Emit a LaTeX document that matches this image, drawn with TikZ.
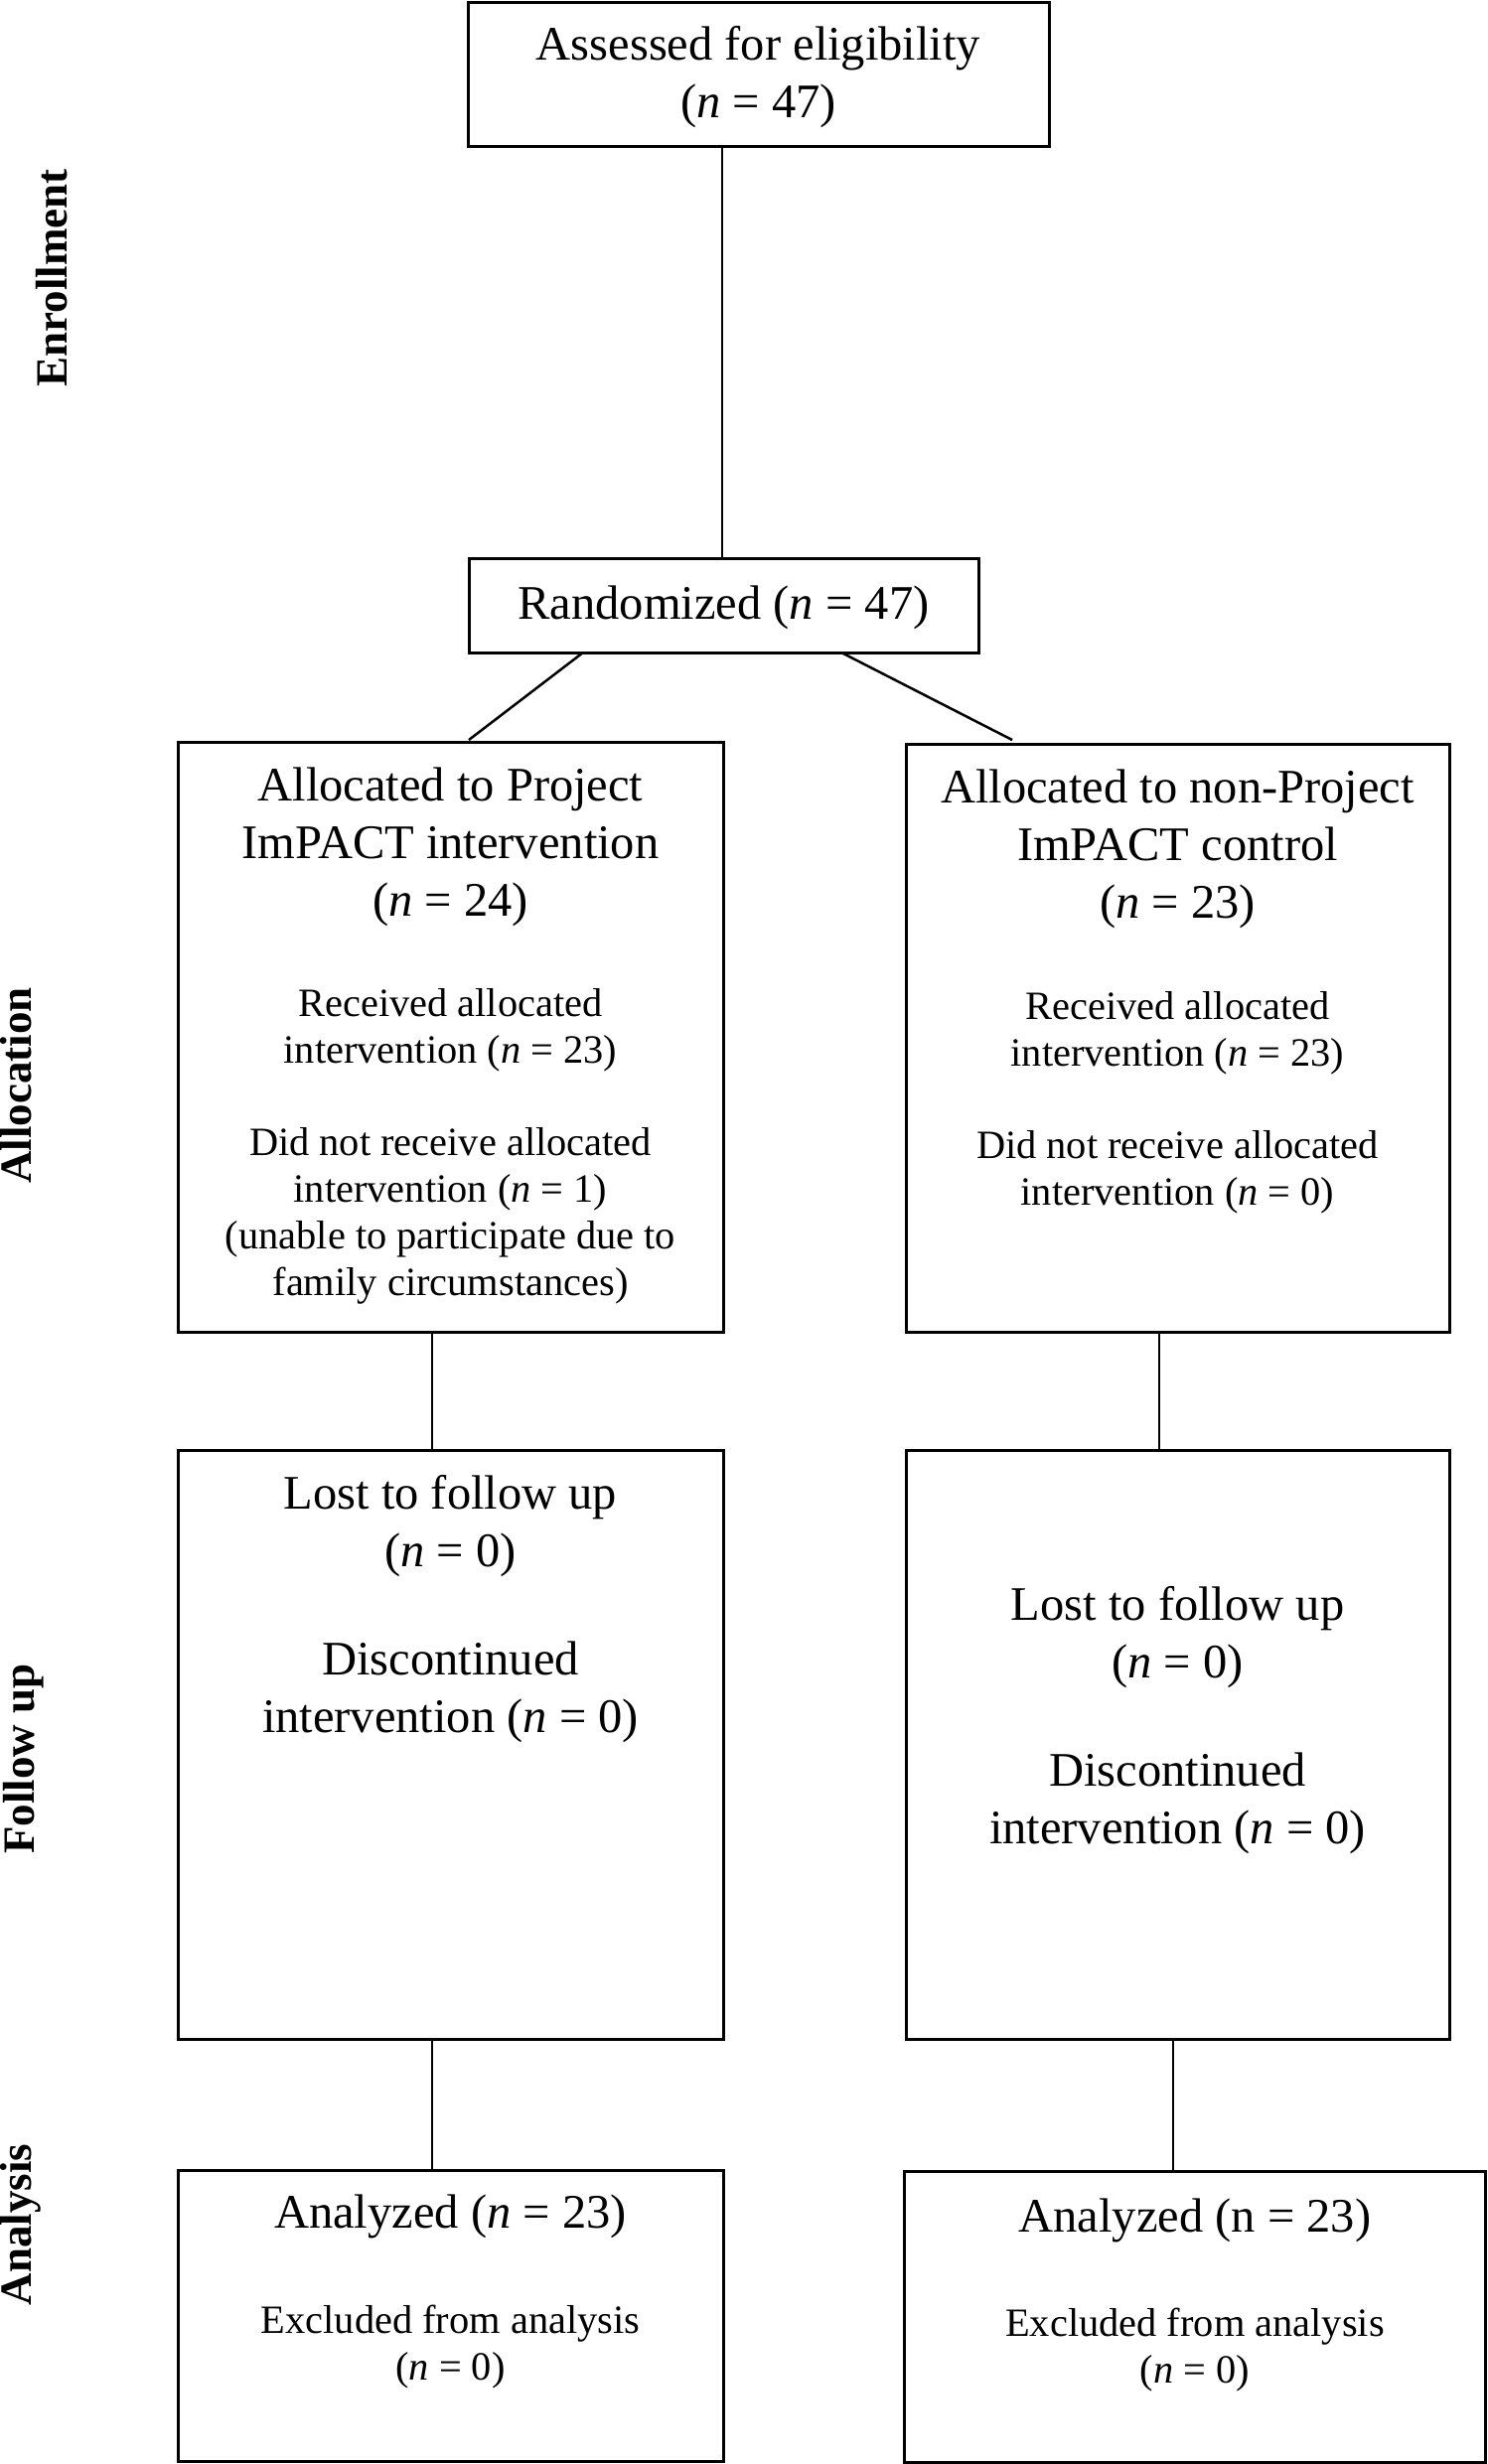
\documentclass[tikz,border=0pt]{standalone}
\usepackage{fontspec}
\setmainfont{Liberation Serif}
\begin{document}
\begin{tikzpicture}[x=0.5pt,y=-0.5pt,
  box/.style={draw, line width=1.5pt, inner sep=0pt, outer sep=0pt, anchor=north west},
  conn/.style={line width=1.25pt},
  big/.style={align=center, inner sep=0pt, font=\fontsize{24.25}{29}\selectfont},
  med/.style={align=center, inner sep=0pt, font=\fontsize{20.2}{23.5}\selectfont},
  side/.style={rotate=90, anchor=base, inner sep=0pt, font=\bfseries\fontsize{22.5}{26}\selectfont}]
\useasboundingbox (0,0) rectangle (1498,2481);

% boxes
\node[box, minimum width=292.5pt, minimum height=72.25pt] (top) at (471,2.5) {};
\node[box, minimum width=256.5pt, minimum height=47.5pt] (rand) at (472,562) {};
\node[box, minimum width=274.5pt, minimum height=297pt] (lalloc) at (179,747) {};
\node[box, minimum width=273.5pt, minimum height=296pt] (ralloc) at (912,749) {};
\node[box, minimum width=274.5pt, minimum height=296.5pt] (lfu) at (179,1460) {};
\node[box, minimum width=273.5pt, minimum height=296.5pt] (rfu) at (912,1460) {};
\node[box, minimum width=274.5pt, minimum height=146.5pt] (lan) at (179,2185) {};
\node[box, minimum width=292.5pt, minimum height=146.5pt] (ran) at (910,2186) {};

% connectors
\coordinate (dl) at (472,745);
\coordinate (dr) at (1019,745);
\draw[conn] ([xshift=-0.75pt]rand.north) -- ([xshift=-0.75pt]rand.north |- top.south);
\draw[conn] ([xshift=-70.75pt]rand.south) -- (dl);
\draw[conn] ([xshift=59.25pt]rand.south) -- (dr);
\draw[conn] ([xshift=-9.25pt]lalloc.south) -- ([xshift=-9.25pt]lalloc.south |- lfu.north);
\draw[conn] ([xshift=-9.25pt]ralloc.south) -- ([xshift=-9.25pt]ralloc.south |- rfu.north);
\draw[conn] ([xshift=-9.25pt]lfu.south) -- ([xshift=-9.25pt]lfu.south |- lan.north);
\draw[conn] ([xshift=-2.25pt]rfu.south) -- ([xshift=-2.25pt]rfu.south |- ran.north);

% texts
\node[big] (t1) at (763.5,78) {Assessed for eligibility\\(\textit{n} = 47)};
\node[big] (t2) at (728.5,612) {Randomized (\textit{n} = 47)};

\node[big] (la1) at (453.5,853) {Allocated to Project\\ImPACT intervention\\(\textit{n} = 24)};
\node[med] (la2) at (453.5,1037.5) {Received allocated\\intervention (\textit{n} = 23)};
\node[med] (la3) at (453.5,1224) {Did not receive allocated\\intervention (\textit{n} = 1)\\(unable to participate due to\\family circumstances)};

\node[big] (ra1) at (1185.5,855) {Allocated to non-Project\\ImPACT control\\(\textit{n} = 23)};
\node[med] (ra2) at (1185.5,1040) {Received allocated\\intervention (\textit{n} = 23)};
\node[med] (ra3) at (1185.5,1180) {Did not receive allocated\\intervention (\textit{n} = 0)};

\node[big] (lf1) at (453.5,1537) {Lost to follow up\\(\textit{n} = 0)};
\node[big] (lf2) at (453.5,1704) {Discontinued\\intervention (\textit{n} = 0)};

\node[big] (rf1) at (1185.5,1649) {Lost to follow up\\(\textit{n} = 0)};
\node[big] (rf2) at (1185.5,1815.5) {Discontinued\\intervention (\textit{n} = 0)};

\node[big] (ln1) at (453.5,2232) {Analyzed (\textit{n} = 23)};
\node[med] (ln2) at (453.5,2363) {Excluded from analysis\\(\textit{n} = 0)};

\node[big] (rn1) at (1203,2236) {Analyzed (n = 23)};
\node[med] (rn2) at (1203,2366) {Excluded from analysis\\(\textit{n} = 0)};

% side labels
\node[side] (enr) at (68,280) {Enrollment};
\node[side] (alc) at (32,1093) {Allocation};
\node[side] (fol) at (34,1771) {Follow up};
\node[side] (ana) at (32,2240) {Analysis};
\end{tikzpicture}
\end{document}
